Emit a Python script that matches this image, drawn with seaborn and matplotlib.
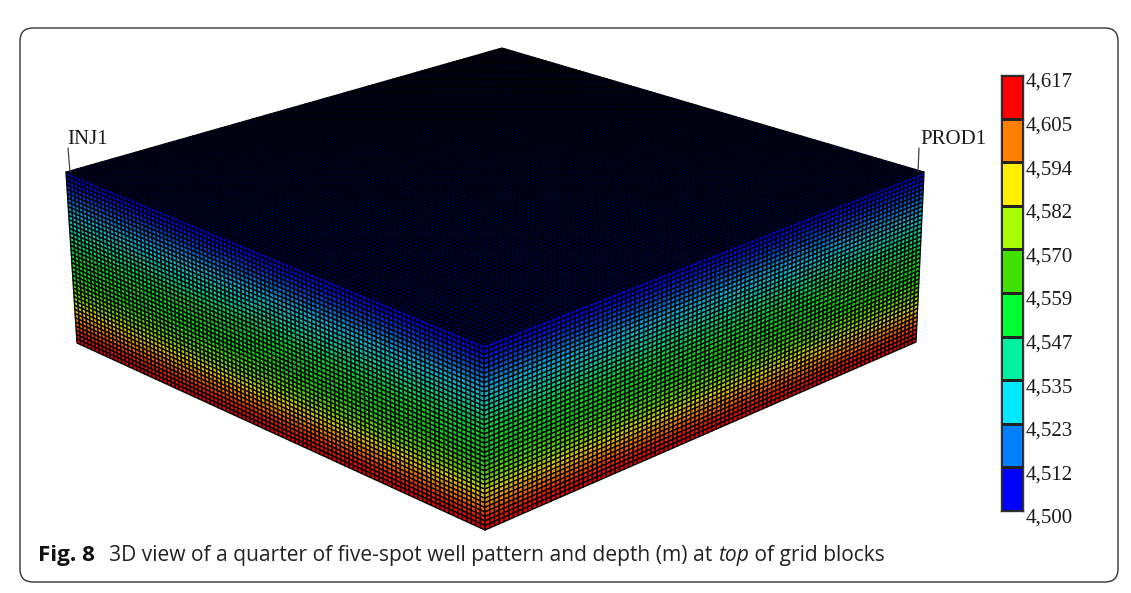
import numpy as np
import matplotlib
matplotlib.use("Agg")
import matplotlib.pyplot as plt
import seaborn as sns
from matplotlib.collections import PolyCollection
from matplotlib.colors import LinearSegmentedColormap, ListedColormap, Normalize
from matplotlib.patches import FancyBboxPatch
from matplotlib.transforms import offset_copy

# Colour scale: depth (m) at the band edges and the band colours, deepest first
tick_labels = ["4,617", "4,605", "4,594", "4,582", "4,570", "4,559",
               "4,547", "4,535", "4,523", "4,512", "4,500"]
band_colors = ["#ff0000", "#ff8000", "#ffee00", "#a8ff00", "#40e000",
               "#00ff30", "#00f0a0", "#00e8ff", "#0080ff", "#0000ff"]
# Colours of the blocks themselves, shallow to deep
block_colors = ["#0000d0", "#0050c8", "#00b0d0", "#00c890", "#00d030",
                "#10c810", "#60d000", "#d8c800", "#e87000", "#e00000"]

# Depth (m) of each grid layer, top to bottom
layer_depths = [4500, 4502, 4504, 4507, 4510, 4513, 4516, 4519, 4522, 4525,
                4528, 4531, 4534, 4537, 4540, 4543, 4546, 4549, 4552, 4555,
                4557, 4559, 4561, 4563, 4566, 4569, 4572, 4575, 4578, 4582,
                4586, 4590, 4594, 4598, 4602, 4606, 4610, 4613, 4615, 4617]
n_areal = 100
top_color = "#00004c"

# Box corners on the page, in pixels
TOP_FACE = [(66, 172), (502, 48), (924, 172), (484, 345)]
LEFT_FACE = [(66, 172), (484, 345), (485, 530), (77, 343)]
RIGHT_FACE = [(484, 345), (924, 172), (916, 342), (485, 530)]

W, H = 1131, 593


def homography(corners):
    """Projective map from the unit square to a four-cornered face."""
    src = [(0, 0), (1, 0), (1, 1), (0, 1)]
    a, b = [], []
    for (u, v), (x, y) in zip(src, corners):
        a.append([u, v, 1, 0, 0, 0, -u * x, -v * x])
        a.append([0, 0, 0, u, v, 1, -u * y, -v * y])
        b += [x, y]
    return np.append(np.linalg.solve(np.array(a, float), np.array(b, float)), 1).reshape(3, 3)


def face_cells(corners, n_u, n_v):
    h = homography(corners)
    u, v = np.meshgrid(np.linspace(0, 1, n_u + 1), np.linspace(0, 1, n_v + 1))
    pts = np.stack([u, v, np.ones_like(u)], axis=-1) @ h.T
    xy = pts[..., :2] / pts[..., 2:]
    return np.stack([xy[:-1, :-1], xy[:-1, 1:], xy[1:, 1:], xy[1:, :-1]], axis=2).reshape(-1, 4, 2)


sns.set_theme(style="white")
fig = plt.figure(figsize=(W / 100, H / 100), dpi=100, facecolor="white")
ax = fig.add_axes([0, 0, 1, 1])
ax.set_xlim(0, W)
ax.set_ylim(H, 0)
ax.axis("off")

# Rounded panel
ax.add_patch(FancyBboxPatch((32, 40), 1074, 530, boxstyle="round,pad=12,rounding_size=13",
                            fc="white", ec="#333333", lw=1.0))

# Grid blocks
norm = Normalize(4500, 4617)
cmap = LinearSegmentedColormap.from_list("depth", block_colors)
depths = np.array(layer_depths, float)
for corners in (LEFT_FACE, RIGHT_FACE):
    cells = face_cells(corners, n_areal, len(depths))
    pc = PolyCollection(cells, array=np.repeat(depths, n_areal), cmap=cmap, norm=norm,
                        edgecolors="black", linewidths=0.95)
    ax.add_collection(pc)
ax.add_collection(PolyCollection(face_cells(TOP_FACE, n_areal, n_areal),
                                 facecolors=top_color, edgecolors="black", linewidths=0.8))

# Well labels and leaders
ax.plot([68, 70], [148, 172], color="#444444", lw=0.9)
ax.plot([919, 918], [148, 172], color="#444444", lw=0.9)
serif = dict(family="Liberation Serif", size=15, color="#1a1a1a", va="center")
ax.text(67, 139, "INJ1", ha="left", **serif)
ax.text(920, 139, "PROD1", ha="left", **serif)

# Colour bar with ten bands
cax = fig.add_axes([1000.5 / W, 1 - 511 / H, 22.5 / W, 436 / H])
bands = np.arange(len(band_colors)).reshape(-1, 1)
sns.heatmap(bands, ax=cax, cmap=ListedColormap(band_colors), cbar=False,
            linewidths=0.8, linecolor="#222222", xticklabels=False)
for s in cax.spines.values():
    s.set_visible(True)
    s.set_color("#333333")
    s.set_linewidth(1.0)
cax.yaxis.tick_right()
cax.set_yticks(np.arange(len(tick_labels)))
cax.set_yticklabels(tick_labels, rotation=0, family="Liberation Serif", fontsize=15, color="#1a1a1a")
cax.tick_params(axis="y", length=0, pad=2)
shift = offset_copy(cax.get_yticklabels()[0].get_transform(), fig=fig, x=0, y=-5, units="dots")
for lab in cax.get_yticklabels():
    lab.set_transform(shift)

# Caption, set piece by piece so the bold and italic runs sit in line
CAPTION_SIZE = 15.1
pieces = [("Fig. 8", "bold", "normal", 38, "#111111", 16.2),
          ("3D view of a quarter of five-spot well pattern and depth (m) at ", "normal", "normal", 109, "#222222", CAPTION_SIZE),
          ("top", "normal", "italic", None, "#222222", CAPTION_SIZE),
          (" of grid blocks", "normal", "normal", None, "#222222", CAPTION_SIZE)]
fig.canvas.draw()
renderer = fig.canvas.get_renderer()
x = 0
for txt, weight, style, x0, col, size in pieces:
    x = x0 if x0 is not None else x
    ax.text(x, 556, txt, family="Open Sans", fontsize=size, weight=weight, style=style,
            color=col, va="center", ha="left")
    probe = ax.text(0, 0, txt.replace(" ", "\u00a0"), family="Open Sans", fontsize=size,
                    weight=weight, style=style)
    x += probe.get_window_extent(renderer).width
    probe.remove()

fig.savefig("out.png", dpi=100)
